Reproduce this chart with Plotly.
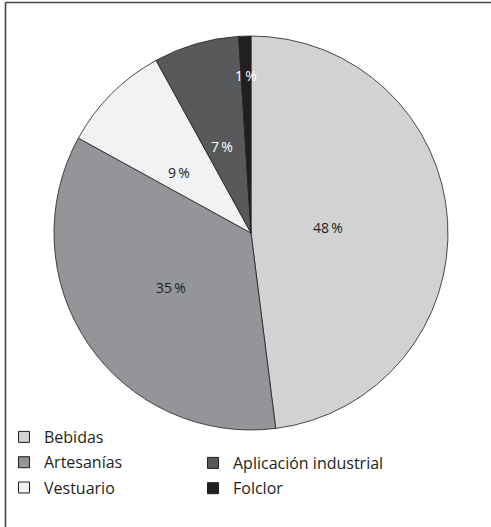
import math
import plotly.graph_objects as go

# ---- data ----
labels = ["Bebidas", "Artesanías", "Vestuario", "Aplicación industrial", "Folclor"]
values = [48, 35, 9, 7, 1]
colors = ["#d1d2d4", "#939598", "#f1f2f2", "#58595b", "#231f20"]
text_colors = ["#231f20", "#231f20", "#231f20", "#ffffff", "#ffffff"]
label_radius = [0.48, 0.49, 0.52, 0.52, 0.86]
legend1_items = ["Bebidas", "Artesanías", "Vestuario"]
legend2_items = ["Aplicación industrial", "Folclor"]

W, H = 491, 527
CX, CY, R = 251, 233, 197
FONT = "Open Sans"

fig = go.Figure()
fig.add_trace(go.Pie(
    labels=labels, values=values, sort=False, direction="clockwise", rotation=0,
    marker=dict(colors=colors, line=dict(color="#231f20", width=0.8)),
    textinfo="none", hoverinfo="label+percent", showlegend=False,
    domain=dict(x=[(CX - R) / W, (CX + R) / W], y=[(H - CY - R) / H, (H - CY + R) / H]),
))

# percentage labels placed from the cumulative slice angles
total = sum(values)
annotations = []
cum = 0
for v, tc, rf in zip(values, text_colors, label_radius):
    theta = 2 * math.pi * (cum + v / 2) / total
    cum += v
    px = CX + rf * R * math.sin(theta)
    py = CY - rf * R * math.cos(theta)
    annotations.append(dict(
        x=px / W, y=1 - py / H, xref="paper", yref="paper", showarrow=False,
        text=f"{round(100 * v / total)}\u2009%", font=dict(family=FONT, size=14, color=tc),
    ))

color_of = dict(zip(labels, colors))
for name in legend1_items:
    fig.add_trace(go.Scatter(
        x=[None], y=[None], mode="markers", name=name, legend="legend", legendgroup=name,
        marker=dict(symbol="square", size=11, color=color_of[name], line=dict(color="#231f20", width=1)),
    ))
for name in legend2_items:
    fig.add_trace(go.Scatter(
        x=[None], y=[None], mode="markers", name=name, legend="legend2", legendgroup=name,
        marker=dict(symbol="square", size=11, color=color_of[name], line=dict(color="#231f20", width=1)),
    ))

legend_common = dict(
    xanchor="left", yanchor="top", bgcolor="rgba(0,0,0,0)", borderwidth=0,
    font=dict(family=FONT, size=16, color="#231f20"), tracegroupgap=1.5,
    itemclick=False, itemdoubleclick=False,
)

fig.update_layout(
    width=W, height=H, margin=dict(l=0, r=0, t=0, b=0),
    paper_bgcolor="white", plot_bgcolor="white",
    xaxis=dict(visible=False), yaxis=dict(visible=False),
    annotations=annotations,
    legend=dict(x=4 / W, y=1 - 420 / H, **legend_common),
    legend2=dict(x=193 / W, y=1 - 446 / H, **legend_common),
    shapes=[
        dict(type="line", xref="paper", yref="paper", x0=5.5 / W, x1=1, y0=1 - 2.5 / H, y1=1 - 2.5 / H,
             line=dict(color="#444444", width=1.6)),
        dict(type="line", xref="paper", yref="paper", x0=5.5 / W, x1=5.5 / W, y0=0, y1=1 - 2.5 / H,
             line=dict(color="#444444", width=1.6)),
    ],
)

fig.write_html("out.html")
